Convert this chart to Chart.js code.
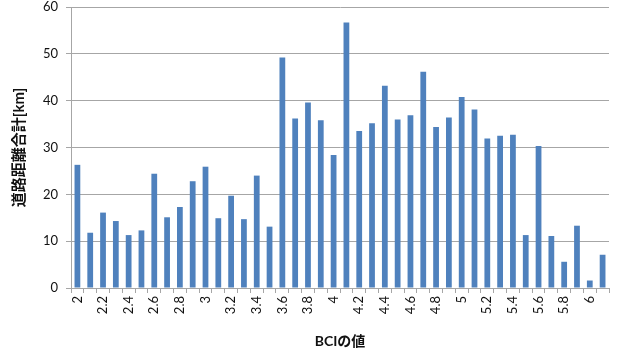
<!DOCTYPE html>
<html>
<head>
<meta charset="utf-8">
<script src="https://cdn.jsdelivr.net/npm/chart.js@4"></script>
<style>
  html, body { margin: 0; padding: 0; background: #fff; }
  #wrap { width: 627px; height: 350px; }
</style>
</head>
<body>
<div id="wrap"><canvas id="chart"></canvas></div>
<script>
// BCI values (categories) and road length totals [km]
const bciLabels = ['2', '2.1', '2.2', '2.3', '2.4', '2.5', '2.6', '2.7', '2.8', '2.9',
  '3', '3.1', '3.2', '3.3', '3.4', '3.5', '3.6', '3.7', '3.8', '3.9',
  '4', '4.1', '4.2', '4.3', '4.4', '4.5', '4.6', '4.7', '4.8', '4.9',
  '5', '5.1', '5.2', '5.3', '5.4', '5.5', '5.6', '5.7', '5.8', '5.9',
  '6', '6.1'];
const roadKm = [26.3, 11.8, 16.1, 14.3, 11.3, 12.3, 24.4, 15.1, 17.3, 22.8,
  25.9, 14.9, 19.7, 14.7, 24.0, 13.1, 49.2, 36.2, 39.6, 35.8,
  28.4, 56.7, 33.5, 35.2, 43.2, 36.0, 36.9, 46.2, 34.4, 36.4,
  40.8, 38.1, 31.9, 32.5, 32.7, 11.3, 30.3, 11.1, 5.6, 13.3,
  1.6, 7.1];
const yTicks = [0, 10, 20, 30, 40, 50, 60];

const fontFamily = 'Lato, "Noto Sans CJK JP", sans-serif';
const gridColor = '#a6a6a6';

new Chart(document.getElementById('chart'), {
  type: 'bar',
  data: {
    labels: bciLabels,
    datasets: [{
      data: roadKm,
      backgroundColor: '#4f81bd',
      borderWidth: 0,
      categoryPercentage: 1,
      barPercentage: 0.45
    }]
  },
  options: {
    responsive: true,
    maintainAspectRatio: false,
    animation: false,
    layout: { padding: { top: 7, right: 18, left: 0, bottom: 0 } },
    plugins: {
      legend: { display: false },
      tooltip: { enabled: false }
    },
    scales: {
      x: {
        afterFit: (s) => { s.height = 62; },
        grid: {
          offset: true,
          drawOnChartArea: false,
          color: gridColor,
          tickLength: 5
        },
        border: { color: gridColor },
        ticks: {
          autoSkip: false,
          minRotation: 90,
          maxRotation: 90,
          padding: 3,
          color: '#111',
          font: { family: fontFamily, size: 13 },
          callback: (v, i) => (i % 2 === 0 ? bciLabels[i] : '')
        },
        title: {
          display: true,
          text: 'BCIの値',
          color: '#111',
          font: { family: fontFamily, size: 14, weight: 'bold' },
          padding: { top: 0, bottom: 0 }
        }
      },
      y: {
        min: 0,
        max: 60,
        afterFit: (s) => { s.width = 71; s.paddingTop = 0; s.paddingBottom = 0; },
        afterBuildTicks: (s) => { s.ticks = yTicks.map(v => ({ value: v })); },
        grid: { color: gridColor, tickLength: 5 },
        border: { color: gridColor },
        ticks: {
          padding: 8,
          color: '#111',
          font: { family: fontFamily, size: 13 }
        },
        title: {
          display: true,
          text: '道路距離合計[km]',
          color: '#111',
          font: { family: fontFamily, size: 15, weight: 'bold' },
          padding: { top: 10, bottom: 0 }
        }
      }
    }
  }
});
</script>
</body>
</html>
